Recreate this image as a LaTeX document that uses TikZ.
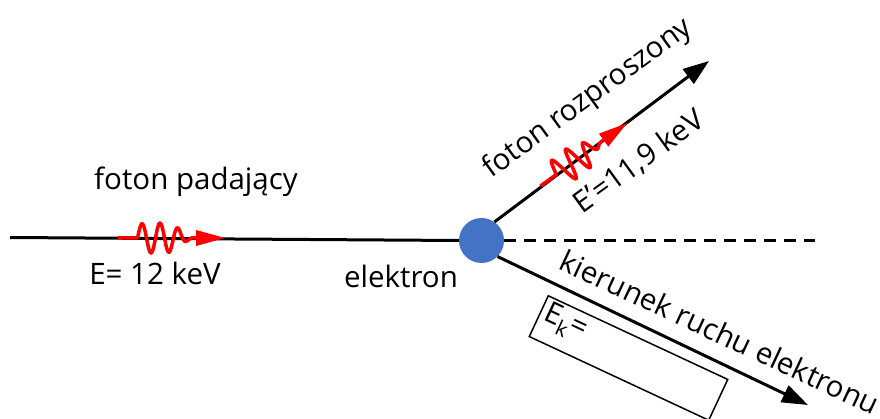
\documentclass[tikz,border=0pt]{standalone}
\usepackage{fontspec}
\setmainfont{Open Sans}
\usetikzlibrary{arrows.meta,calc}
\tikzset{
  ray/.style={line width=3pt, -{Triangle[length=26pt,width=18pt]}},
  lbl/.style={inner sep=0pt, font=\fontsize{29.5}{34}\selectfont},
  wave/.style={red, line width=3.5pt, line join=round},
}
\newcommand\photonpic{%
  \draw[wave] (0,0) -- (19.5,0)
    -- plot[domain=0:54, samples=120] ({19.5+\x}, {-15*exp(-((\x-18)/28)^4)*sin(20*\x)})
    -- (78,0);
  \fill[red] (78,-8) -- (107,0) -- (78,8) -- cycle;
}
\begin{document}
\begin{tikzpicture}[x=1pt, y=-1pt]
\useasboundingbox (0,0) rectangle (880,419);
\node[circle, fill={rgb,255:red,68;green,114;blue,196}, minimum size=45pt, inner sep=0pt] (el) at (481.5,240.5) {};
\coordinate (in) at (10,237.5);
\coordinate (up) at (709,61);
\coordinate (dn) at (808,405);
\coordinate (dr) at (815,240.5);
\draw[line width=3pt] (in) -- (el.west);
\draw[ray] (el.55) -- (up);
\draw[ray] (el.-45) -- (dn);
\draw[line width=3pt, dash pattern=on 12pt off 8pt] (el.east) -- (dr);
\begin{scope}[shift={(118,238)}]
  \photonpic
\end{scope}
\begin{scope}[shift={(540.5,186)}, rotate=36]
  \photonpic
\end{scope}
\node[lbl] (t1) at (196,182) {foton padający};
\node[lbl] (t2) at (155,273) {E= 12 keV};
\node[lbl] (t3) at (401,276) {elektron};
\node[lbl, rotate=36] (t4) at (588,99) {foton rozproszony};
\node[lbl, rotate=36] (t5) at (639,162) {E'=11,9 keV};
\node[lbl, rotate=-25] (t6) at (720,332) {kierunek ruchu elektronu};
\node[draw, line width=1.5pt, rotate=-25, minimum width=198pt, minimum height=45pt, inner sep=0pt] (box) at (628.5,358) {};
\node[lbl, rotate=-25] (ek) at (565,323) {E\raisebox{-8pt}{\fontsize{21}{21}\selectfont k}=};
\end{tikzpicture}
\end{document}
